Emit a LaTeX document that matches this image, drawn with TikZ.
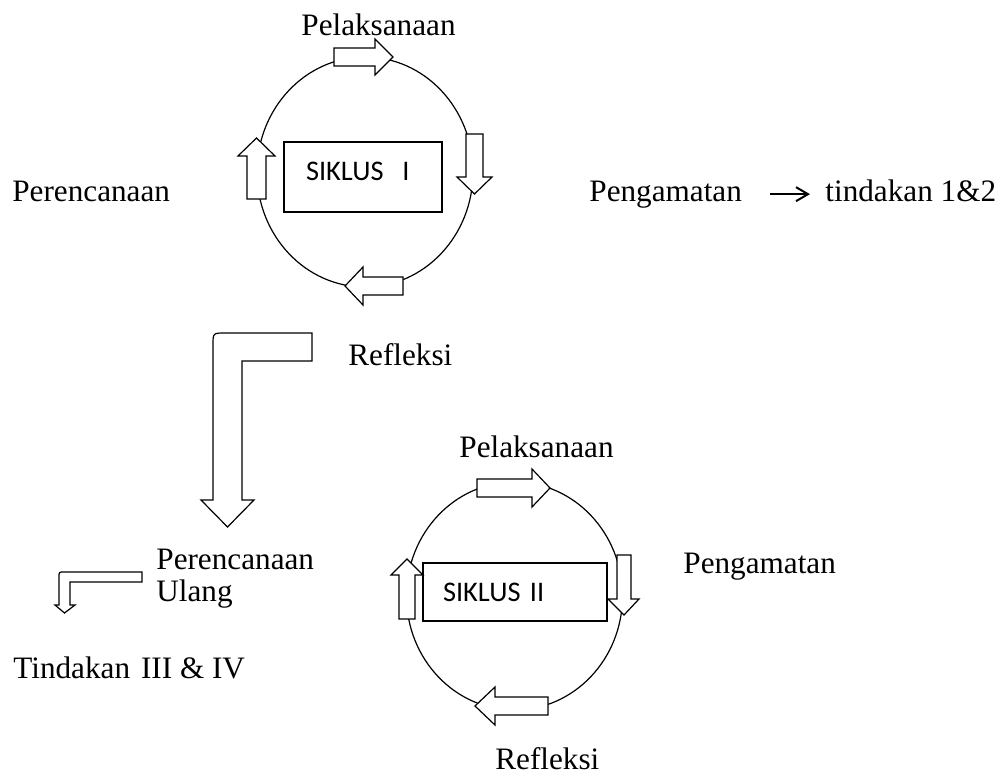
\documentclass[tikz,border=0pt]{standalone}
\usepackage{fontspec}
\setmainfont{Liberation Serif}
\newfontfamily\calibfont{Carlito}
\usetikzlibrary{arrows.meta}

\begin{document}
\begin{tikzpicture}[x=0.5pt, y=-0.5pt,
    lbl/.style={anchor=base west, inner sep=0pt, font=\fontsize{15.6}{19}\selectfont},
    ring/.style={line width=0.6pt},
    blockarr/.style={draw, line width=0.6pt, fill=white, line join=miter},
    sikbox/.style={draw, line width=1pt, align=left, inner ysep=0pt, font=\calibfont\fontsize{14.2}{17}\selectfont},
    txtarr/.style={line width=1pt, -{Straight Barb[length=6pt, width=7pt]}}]

    \useasboundingbox (0,0) rectangle (1005,776);

    % Siklus I

    \draw[ring] (365,172) ellipse [x radius=54pt, y radius=57.5pt];

    \node[sikbox, minimum width=79pt, minimum height=35pt, text width=57pt, inner xsep=11pt, text depth=6pt] (box1) at (363,177) {SIKLUS\ \ I};

    \draw[blockarr] (334,48) -- (375,48) -- (375,39) -- (393,57) -- (375,75) -- (375,66) -- (334,66) -- cycle;
    \draw[blockarr] (466,134) -- (483,134) -- (483,177) -- (492,177) -- (474.5,194) -- (457,177) -- (466,177) -- cycle;
    \draw[blockarr] (403,277) -- (363,277) -- (363,267) -- (345,286) -- (363,305) -- (363,295) -- (403,295) -- cycle;
    \draw[blockarr] (247,199) -- (247,156) -- (238,156) -- (256.5,138) -- (275,156) -- (266,156) -- (266,199) -- cycle;

    \node[lbl] (pel1) at (301,35) {Pelaksanaan};
    \node[lbl] (per1) at (12,201) {Perencanaan};
    \node[lbl] (peng1) at (589,201) {Pengamatan};
    \node[lbl] (tind1) at (825,201) {tindakan 1\&2};
    \node[lbl] (ref1) at (348,365) {Refleksi};

    \draw[txtarr, shorten <=14pt, shorten >=7.5pt] (peng1.east) -- (peng1.east -| tind1.west);

    % bent arrows

    \draw[blockarr] (312,333) -- (225,333) .. controls (213,333) .. (213,345) -- (213,500) -- (201,500) -- (227.5,527) -- (254,500) -- (242,500) -- (242,361) -- (312,361) -- cycle;

    \draw[blockarr] (142,572) -- (64,572) .. controls (59,572) .. (59,577) -- (59,605) -- (55,605) -- (64.5,613) -- (75,605) -- (70,605) -- (70,582) -- (142,582) -- cycle;

    \node[lbl] (perul) at (156,569) {Perencanaan};
    \node[lbl] (ulang) at (156,601) {Ulang};
    \node[lbl] (tind2) at (13,678) {Tindakan\hspace{0.35em}III \& IV};

    % Siklus II

    \draw[ring] (514.5,596) ellipse [x radius=54pt, y radius=57pt];

    \node[sikbox, minimum width=92pt, minimum height=29pt, text width=72pt, inner xsep=10pt] (box2) at (515,592) {SIKLUS II};

    \draw[blockarr] (477,479) -- (532,479) -- (532,469) -- (550,488) -- (532,507) -- (532,497) -- (477,497) -- cycle;
    \draw[blockarr] (617,555) -- (631,555) -- (631,599) -- (639,599) -- (624,615) -- (608,599) -- (617,599) -- cycle;
    \draw[blockarr] (548,697) -- (495,697) -- (495,687) -- (475,706) -- (495,725) -- (495,715) -- (548,715) -- cycle;
    \draw[blockarr] (399,619) -- (399,575) -- (391,575) -- (407,559) -- (423,575) -- (415,575) -- (415,619) -- cycle;

    \node[lbl] (pel2) at (459,457) {Pelaksanaan};
    \node[lbl] (peng2) at (683,573) {Pengamatan};
    \node[lbl] (ref2) at (495,769) {Refleksi};

\end{tikzpicture}
\end{document}
